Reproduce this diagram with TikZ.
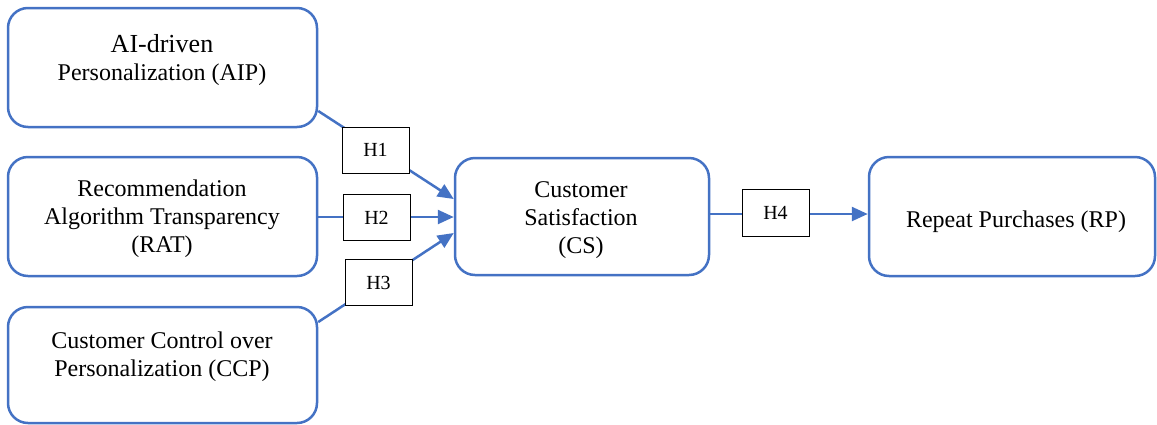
\documentclass[tikz,border=0pt]{standalone}
\usepackage{fontspec}
\setmainfont{Liberation Serif}
\newfontfamily\tnr{Liberation Serif}
\usetikzlibrary{arrows.meta,calc}
\definecolor{obl}{HTML}{4472C4}
\begin{document}
\begin{tikzpicture}[x=1pt,y=-1pt,
  box/.style={draw=obl,line width=2.5pt,rounded corners=20pt,inner sep=0pt},
  hbox/.style={draw=black,line width=1pt,fill=white,minimum width=67pt,minimum height=46pt,inner sep=0pt,font=\tnr\fontsize{20}{22}\selectfont},
  txt/.style={align=center,font=\tnr\fontsize{24}{28}\selectfont,inner sep=0pt},
  conn/.style={draw=obl,line width=2.5pt},
  arr/.style={conn,-{Triangle[length=16pt,width=14pt]}}]
\useasboundingbox (0,0) rectangle (1157,424);
% boxes
\node[box,minimum width=309pt,minimum height=119pt] (aip) at (162.5,67.5) {};
\node[box,minimum width=309pt,minimum height=119pt] (rat) at (162.5,216.5) {};
\node[box,minimum width=309pt,minimum height=116pt] (ccp) at (162.5,365) {};
\node[box,minimum width=254pt,minimum height=117pt] (cs) at (582,216.5) {};
\node[box,minimum width=286pt,minimum height=119pt] (rp) at (1012,216.5) {};
% texts
\node[txt] (aiptxt) at (162,60.5) {{\fontsize{26}{28}\selectfont AI-driven}\\Personalization (AIP)};
\node[txt] (rattxt) at (162,218.5) {Recommendation\\Algorithm Transparency\\(RAT)};
\node[txt] (ccptxt) at (162,356.5) {Customer Control over\\Personalization (CCP)};
\node[txt] (cstxt) at (581,220.5) {Customer\\Satisfaction\\(CS)};
\node[txt] (rptxt) at (1016,221.5) {Repeat Purchases (RP)};
% anchor points
\coordinate (a1) at ($(aip.east)+(0,43.5)$);
\coordinate (r1) at ($(rat.east)+(0,0.5)$);
\coordinate (k1) at ($(ccp.east)+(0,-43)$);
\coordinate (c1) at ($(cs.west)+(0,-17.5)$);
\coordinate (c2) at ($(cs.west)+(0,0.5)$);
\coordinate (c3) at ($(cs.west)+(0,16.5)$);
\coordinate (c4) at ($(cs.east)+(0,-2.5)$);
\coordinate (p4) at ($(rp.west)+(0,-2.5)$);
% connectors
\draw[arr] (a1) -- (c1);
\draw[arr] (r1) -- (c2);
\draw[arr] (k1) -- (c3);
\draw[arr] (c4) -- (p4);
% hypothesis labels
\node[hbox] (h1) at (375.5,150) {H1};
\node[hbox] (h2) at (376.5,217.5) {H2};
\node[hbox] (h3) at (378.5,282.5) {H3};
\node[hbox,minimum height=47pt] (h4) at (775.5,212.5) {H4};
\end{tikzpicture}
\end{document}
